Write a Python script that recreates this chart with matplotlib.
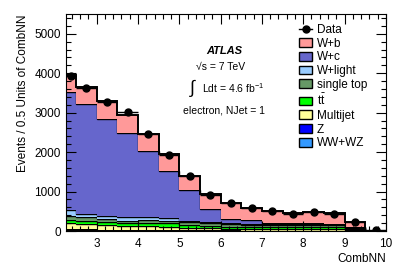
import numpy as np
import matplotlib
matplotlib.use("Agg")
import matplotlib.pyplot as plt
import matplotlib.ticker as ticker
from matplotlib.patches import Patch
from matplotlib.lines import Line2D

plt.rcParams['font.family'] = ['Liberation Sans', 'DejaVu Sans']
plt.rcParams['mathtext.fontset'] = 'custom'
plt.rcParams['mathtext.rm'] = 'Liberation Sans'
plt.rcParams['mathtext.it'] = 'Liberation Sans:italic'

# Bin edges of CombNN
edges = [2.25, 2.5, 3.0, 3.5, 4.0, 4.5, 5.0, 5.5, 6.0, 6.5, 7.0, 7.5, 8.0, 8.5, 9.0, 9.5, 10.0]

# Stacked backgrounds (bottom to top)
wwwz = [20, 15, 12, 10, 9, 8, 7, 6, 5, 5, 4, 4, 4, 4, 3, 0]
zjets = [40, 30, 25, 20, 18, 15, 12, 10, 8, 7, 6, 6, 6, 5, 3, 0]
multijet = [150, 130, 120, 95, 95, 85, 70, 55, 45, 40, 35, 30, 30, 30, 20, 2]
ttbar = [70, 85, 70, 68, 85, 85, 60, 60, 55, 55, 55, 60, 60, 60, 30, 2]
single_top = [100, 85, 75, 67, 67, 67, 75, 70, 60, 55, 55, 55, 55, 55, 25, 2]
w_light = [145, 85, 75, 83, 83, 58, 35, 40, 30, 25, 25, 20, 20, 20, 10, 1]
w_c = [2990, 2790, 2453, 2142, 1678, 1192, 771, 329, 90, 93, 25, 20, 20, 16, 9, 0]
w_b = [450, 440, 460, 445, 435, 450, 370, 360, 422, 300, 295, 255, 280, 255, 118, 1]

data = [3930, 3630, 3260, 3020, 2455, 1915, 1385, 905, 720, 586, 510, 428, 470, 430, 234, 20]

layers = [
    ('WW+WZ', wwwz, '#3399ff'),
    ('Z', zjets, '#0000ff'),
    ('Multijet', multijet, '#ffff99'),
    (r'$\mathrm{t\bar{t}}$', ttbar, '#00ff00'),
    ('single top', single_top, '#669966'),
    ('W+light', w_light, '#99ccff'),
    ('W+c', w_c, '#6666cc'),
    ('W+b', w_b, '#ff9999'),
]

fig = plt.figure(figsize=(4.07, 2.76), dpi=100)
ax = fig.add_axes([0.1615, 0.163, 0.7865, 0.786])

edges_arr = np.array(edges)
bottom = np.zeros(len(edges) - 1)
for i, (name, vals, color) in enumerate(layers):
    top = bottom + np.array(vals)
    ax.stairs(top, edges_arr, baseline=bottom, fill=True, color=color, lw=0)
    lw = 1.4 if i == len(layers) - 1 else 1.0
    ax.stairs(top, edges_arr, baseline=None, color='black', lw=lw)
    bottom = top

centers = 0.5 * (edges_arr[1:] + edges_arr[:-1])
halfw = 0.5 * (edges_arr[1:] - edges_arr[:-1])
ax.errorbar(centers, data, xerr=halfw, yerr=np.sqrt(data), fmt='o', color='black',
            ms=5, lw=1, capsize=0, zorder=5)

ax.set_xlim(2.25, 10)
ax.set_ylim(0, 5500)
ax.xaxis.set_major_locator(ticker.MultipleLocator(1))
ax.xaxis.set_minor_locator(ticker.MultipleLocator(0.2))
ax.yaxis.set_major_locator(ticker.MultipleLocator(1000))
ax.yaxis.set_minor_locator(ticker.MultipleLocator(200))
ax.tick_params(which='both', direction='in', top=True, right=True, labelsize=8.5)
ax.tick_params(which='major', length=7, width=0.8)
ax.tick_params(which='minor', length=3.5, width=0.8)
ax.tick_params(axis='x', pad=5)
for s in ax.spines.values():
    s.set_linewidth(0.8)

ax.set_xlabel('CombNN', fontsize=8.5, loc='right', labelpad=2)
ax.set_ylabel('Events / 0.5 Units of CombNN', fontsize=8.5, loc='top', labelpad=4)

# ATLAS labels
ax.text(0.495, 0.83, 'ATLAS', transform=ax.transAxes, ha='center', va='center',
        fontsize=8, fontweight='bold', fontstyle='italic')
ax.text(0.485, 0.755, '\u221As = 7 TeV', transform=ax.transAxes, ha='center', va='center', fontsize=7.5)
ax.text(0.395, 0.655, '\u222B', transform=ax.transAxes, ha='center', va='center', fontsize=13)
ax.text(0.425, 0.66, 'Ldt = 4.6 fb$^{-1}$', transform=ax.transAxes, ha='left', va='center', fontsize=7.5)
ax.text(0.495, 0.555, 'electron, NJet = 1', transform=ax.transAxes, ha='center', va='center', fontsize=7.5)

handles = [Line2D([], [], color='black', marker='o', ms=5, lw=1)]
labels = ['Data']
for name, vals, color in reversed(layers):
    handles.append(Patch(facecolor=color, edgecolor='black', lw=1))
    labels.append(name)
ax.legend(handles, labels, loc='upper left', bbox_to_anchor=(0.73, 0.955), frameon=False,
          fontsize=8.5, handlelength=1.1, handleheight=0.75, handletextpad=0.35,
          labelspacing=0.15, borderpad=0, borderaxespad=0)

fig.savefig('out.png', dpi=100)
